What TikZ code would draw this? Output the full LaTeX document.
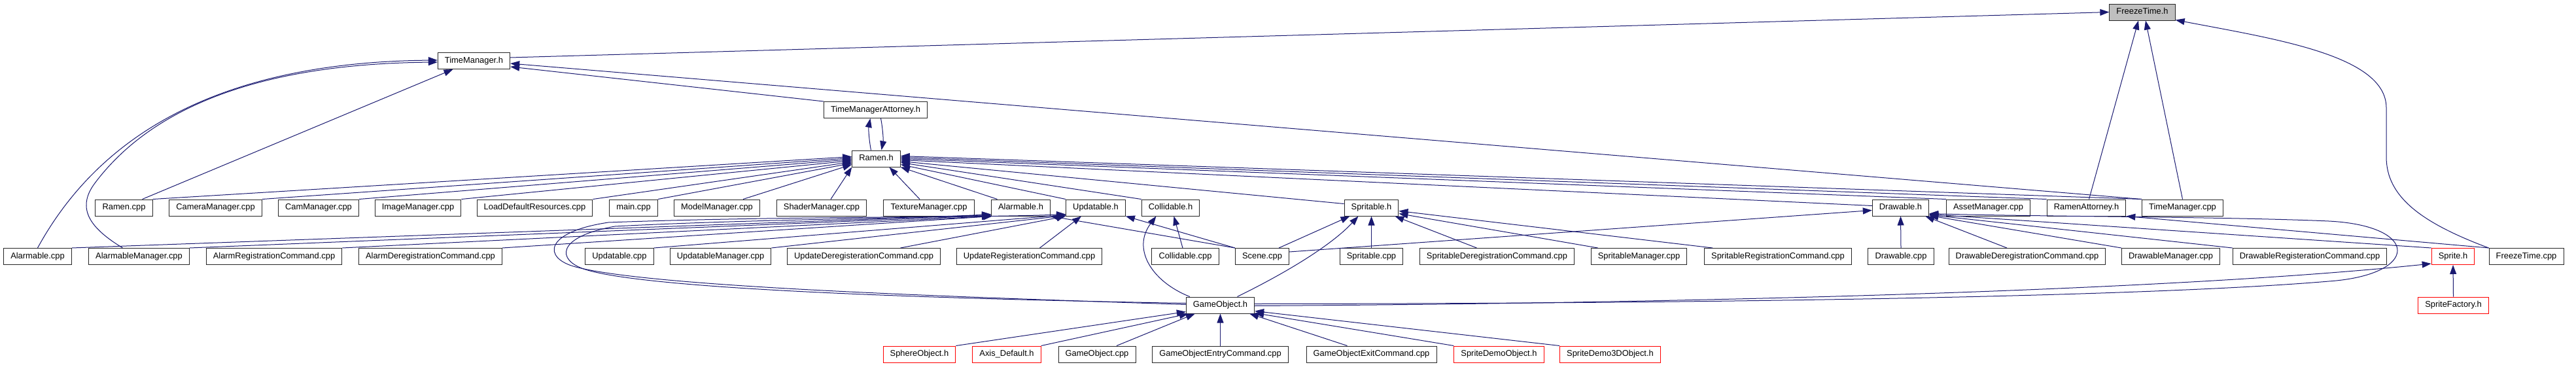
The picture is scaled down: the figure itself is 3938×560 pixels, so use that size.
\documentclass[tikz,border=0pt]{standalone}
\usepackage{fontspec}
\setmainfont{Liberation Sans}
\usetikzlibrary{arrows.meta}
\definecolor{edgeblue}{HTML}{191970}
\tikzset{
  filebox/.style={draw=black!85, fill=white, line width=1pt, minimum height=25pt,
    inner xsep=10.6pt, inner ysep=0pt, text height=9.4pt, text depth=2.8pt,
    font=\fontsize{12.9}{15}\selectfont},
  redbox/.style={filebox, draw=red},
  rootbox/.style={filebox, fill=black!25},
  incl/.style={draw=edgeblue, line width=1pt, -{Triangle[length=14pt,width=10pt]}}
}
\begin{document}
\begin{tikzpicture}[x=1pt,y=-1pt]
        \useasboundingbox (0,0) rectangle (3938,560);
        % define files
        \node[rootbox] (ft) at (3275,18.5) {FreezeTime.h};
        \node[filebox] (tmh) at (724.5,93) {TimeManager.h};
        \node[filebox] (tma) at (1338.5,168) {TimeManagerAttorney.h};
        \node[filebox] (ramenh) at (1339.5,242.5) {Ramen.h};
        % row of Ramen.h users
        \node[filebox] (rcpp) at (189.5,317.5) {Ramen.cpp};
        \node[filebox] (cammgr) at (329.5,317.5) {CameraManager.cpp};
        \node[filebox] (cmgr) at (487,317.5) {CamManager.cpp};
        \node[filebox] (imgmgr) at (639,317.5) {ImageManager.cpp};
        \node[filebox] (ldr) at (817.5,317.5) {LoadDefaultResources.cpp};
        \node[filebox] (maincpp) at (968.5,317.5) {main.cpp};
        \node[filebox] (modelmgr) at (1096,317.5) {ModelManager.cpp};
        \node[filebox] (shadermgr) at (1256,317.5) {ShaderManager.cpp};
        \node[filebox] (texmgr) at (1420,317.5) {TextureManager.cpp};
        \node[filebox] (alarmh) at (1560.5,317.5) {Alarmable.h};
        \node[filebox] (updh) at (1675,317.5) {Updatable.h};
        \node[filebox] (collh) at (1789.5,317.5) {Collidable.h};
        \node[filebox] (spritableh) at (2096.5,317.5) {Spritable.h};
        \node[filebox] (drawh) at (2905.5,317.5) {Drawable.h};
        \node[filebox] (assetmgr) at (3039.5,317.5) {AssetManager.cpp};
        \node[filebox] (ra) at (3189.5,317.5) {RamenAttorney.h};
        \node[filebox] (tmcpp) at (3336.5,317.5) {TimeManager.cpp};
        % next row
        \node[filebox] (alcpp) at (57.5,392) {Alarmable.cpp};
        \node[filebox] (almgr) at (212.5,392) {AlarmableManager.cpp};
        \node[filebox] (alreg) at (419,392) {AlarmRegistrationCommand.cpp};
        \node[filebox] (aldereg) at (658,392) {AlarmDeregistrationCommand.cpp};
        \node[filebox] (updcpp) at (947,392) {Updatable.cpp};
        \node[filebox] (updmgr) at (1101.5,392) {UpdatableManager.cpp};
        \node[filebox] (upddereg) at (1320.5,392) {UpdateDeregisterationCommand.cpp};
        \node[filebox] (updreg) at (1573.5,392) {UpdateRegisterationCommand.cpp};
        \node[filebox] (collcpp) at (1812,392) {Collidable.cpp};
        \node[filebox] (scene) at (1929.5,392) {Scene.cpp};
        \node[filebox] (spritcpp) at (2096.5,392) {Spritable.cpp};
        \node[filebox] (spritdereg) at (2288.5,392) {SpritableDeregistrationCommand.cpp};
        \node[filebox] (spritmgr) at (2505.5,392) {SpritableManager.cpp};
        \node[filebox] (spritreg) at (2718,392) {SpritableRegistrationCommand.cpp};
        \node[filebox] (drawcpp) at (2906,392) {Drawable.cpp};
        \node[filebox] (drawdereg) at (3099,392) {DrawableDeregistrationCommand.cpp};
        \node[filebox] (drawmgr) at (3318.5,392) {DrawableManager.cpp};
        \node[filebox] (drawreg) at (3531,392) {DrawableRegisterationCommand.cpp};
        \node[redbox] (spriteh) at (3750,392) {Sprite.h};
        \node[filebox] (ftcpp) at (3862,392) {FreezeTime.cpp};
        % GameObject.h and below
        \node[filebox] (goh) at (1865.5,466.5) {GameObject.h};
        \node[redbox] (sfh) at (3750.5,466.5) {SpriteFactory.h};
        \node[redbox] (sphere) at (1405.5,541.5) {SphereObject.h};
        \node[redbox] (axis) at (1539,541.5) {Axis\_Default.h};
        \node[filebox] (gocpp) at (1677,541.5) {GameObject.cpp};
        \node[filebox] (goentry) at (1865.5,541.5) {GameObjectEntryCommand.cpp};
        \node[filebox] (goexit) at (2096.5,541.5) {GameObjectExitCommand.cpp};
        \node[redbox] (sdemo) at (2291.5,541.5) {SpriteDemoObject.h};
        \node[redbox] (sdemo3d) at (2461.5,541.5) {SpriteDemo3DObject.h};
        % includes of FreezeTime.h
        \draw[incl] ([yshift=5pt]tmh.east) -- (ft.west);
        \draw[incl] ([xshift=4pt]ra.north) -- ([xshift=-6pt]ft.south);
        \draw[incl] (tmcpp.north) -- ([xshift=5pt]ft.south);
        \draw[incl] (ftcpp.north west) .. controls (3700,340) and (3648,300) .. (3648,240) -- (3648,165) .. controls (3648,85) and (3480,60) .. ([yshift=1pt]ft.south east);
        % TimeManager.h
        \draw[incl] (alcpp.north) .. controls (150,210) and (330,95) .. ([yshift=1pt]tmh.west);
        \draw[incl] ([xshift=-25pt]almgr.north) .. controls (140,350) and (115,320) .. (145,280) .. controls (250,140) and (450,97) .. ([yshift=-2pt]tmh.west);
        \draw[incl] ([xshift=28pt]rcpp.north) -- ([xshift=-32pt]tmh.south);
        \draw[incl] (tma.north west) -- ([yshift=-9pt]tmh.east);
        \draw[incl] (tmcpp.north west) -- ([yshift=-4pt]tmh.east);
        % TimeManagerAttorney.h and Ramen.h
        \draw[incl] ([xshift=-8pt]ramenh.north) .. controls +(-3,-15) and +(-3,15) .. ([xshift=-8pt]tma.south);
        \draw[incl] ([xshift=8pt]tma.south) .. controls +(3,15) and +(3,-15) .. ([xshift=8pt]ramenh.north);
        % Ramen.h
        \draw[incl] (rcpp.north east) -- ([yshift=3pt]ramenh.west);
        \draw[incl] (cammgr.north east) -- ([yshift=1pt]ramenh.west);
        \draw[incl] (cmgr.north east) -- ([yshift=-1pt]ramenh.west);
        \draw[incl] (imgmgr.north east) -- ([yshift=-3pt]ramenh.west);
        \draw[incl] (ldr.north east) -- ([yshift=-5pt]ramenh.west);
        \draw[incl] (maincpp.north east) -- ([yshift=-7pt]ramenh.west);
        \draw[incl] ([xshift=40pt]modelmgr.north) -- ([yshift=-9pt]ramenh.west);
        \draw[incl] ([xshift=14pt]shadermgr.north) -- (ramenh.south west);
        \draw[incl] ([xshift=-14pt]texmgr.north) -- ([xshift=20pt]ramenh.south);
        \draw[incl] ([xshift=-36pt]alarmh.north) -- (ramenh.south east);
        \draw[incl] (updh.north west) -- ([yshift=-9pt]ramenh.east);
        \draw[incl] (collh.north west) -- ([yshift=-6pt]ramenh.east);
        \draw[incl] ([yshift=6pt]spritableh.west) -- ([yshift=-4pt]ramenh.east);
        \draw[incl] ([yshift=3pt]drawh.west) -- ([yshift=-2pt]ramenh.east);
        \draw[incl] (assetmgr.north west) -- (ramenh.east);
        \draw[incl] (ra.north west) -- ([yshift=2pt]ramenh.east);
        \draw[incl] (tmcpp.north west) -- ([yshift=4pt]ramenh.east);
        % Alarmable.h
        \draw[incl] (alcpp.north east) -- ([yshift=2pt]alarmh.south west);
        \draw[incl] (almgr.north east) -- ([yshift=1pt]alarmh.south west);
        \draw[incl] (alreg.north east) -- (alarmh.south west);
        \draw[incl] (aldereg.north east) -- ([xshift=2pt]alarmh.south west);
        \draw[incl] (scene.north west) -- (alarmh.south east);
        \draw[incl] ([yshift=3pt]goh.west) .. controls (1500,458) and (1000,445) .. (895,412) .. controls (850,398) and (850,362) .. (940,346) .. controls (1150,335) and (1400,334) .. ([yshift=3pt]alarmh.south west);
        % Updatable.h
        \draw[incl] (updcpp.north east) -- ([yshift=2pt]updh.south west);
        \draw[incl] (updmgr.north east) -- ([yshift=1pt]updh.south west);
        \draw[incl] ([xshift=56pt]upddereg.north) -- (updh.south west);
        \draw[incl] ([xshift=16pt]updreg.north) -- ([xshift=-22pt]updh.south);
        \draw[incl] (scene.north west) -- (updh.south east);
        \draw[incl] ([yshift=1pt]goh.west) .. controls (1500,455) and (1000,440) .. (880,408) .. controls (830,395) and (830,355) .. (930,340) .. controls (1200,330) and (1500,333) .. ([yshift=3pt]updh.south west);
        % Collidable.h
        \draw[incl] ([xshift=-4pt]collcpp.north) -- ([xshift=5pt]collh.south);
        \draw[incl] ([xshift=6pt]goh.north west) .. controls (1760,430) and (1730,380) .. ([xshift=-22pt]collh.south);
        % Spritable.h
        \draw[incl] ([xshift=-16pt]scene.north east) -- ([xshift=-33pt]spritableh.south);
        \draw[incl] ([xshift=26pt]goh.north) .. controls (1980,410) and (2040,370) .. ([xshift=-20pt]spritableh.south);
        \draw[incl] (spritcpp.north) -- (spritableh.south);
        \draw[incl] ([xshift=-31pt]spritdereg.north) -- ([xshift=-6pt]spritableh.south east);
        \draw[incl] ([xshift=11pt]spritmgr.north west) -- ([yshift=-9pt]spritableh.east);
        \draw[incl] ([xshift=13pt]spritreg.north west) -- ([yshift=-5pt]spritableh.east);
        % Drawable.h
        \draw[incl] ([yshift=7pt]scene.east) -- ([yshift=-4pt]drawh.west);
        \draw[incl] (drawcpp.north) -- (drawh.south);
        \draw[incl] ([xshift=-31pt]drawdereg.north) -- ([xshift=-6pt]drawh.south east);
        \draw[incl] (drawmgr.north west) -- ([yshift=1pt]drawh.south east);
        \draw[incl] (drawreg.north west) -- ([yshift=2pt]drawh.south east);
        \draw[incl] (spriteh.north west) -- ([yshift=3pt]drawh.south east);
        \draw[incl] ([yshift=2pt]goh.east) .. controls (2700,464) and (3300,452) .. (3560,430) .. controls (3700,420) and (3700,345) .. (3560,338) .. controls (3400,331) and (3100,331) .. ([yshift=4pt]drawh.south east);
        % RamenAttorney.h, Sprite.h
        \draw[incl] (ftcpp.north west) -- (ra.south east);
        \draw[incl] ([yshift=-1pt]goh.east) .. controls (2800,462) and (3400,436) .. ([yshift=2pt]spriteh.south west);
        \draw[incl] (sfh.north) -- (spriteh.south);
        % GameObject.h
        \draw[incl] (sphere.north east) -- ([yshift=3pt]goh.south west);
        \draw[incl] (axis.north east) -- ([xshift=4pt]goh.south west);
        \draw[incl] ([xshift=30pt]gocpp.north) -- ([xshift=14pt]goh.south west);
        \draw[incl] (goentry.north) -- (goh.south);
        \draw[incl] ([xshift=-37pt]goexit.north) -- ([xshift=-8pt]goh.south east);
        \draw[incl] (sdemo.north west) -- ([yshift=1pt]goh.south east);
        \draw[incl] (sdemo3d.north west) -- ([yshift=4pt]goh.south east);
    \end{tikzpicture}
\end{document}
